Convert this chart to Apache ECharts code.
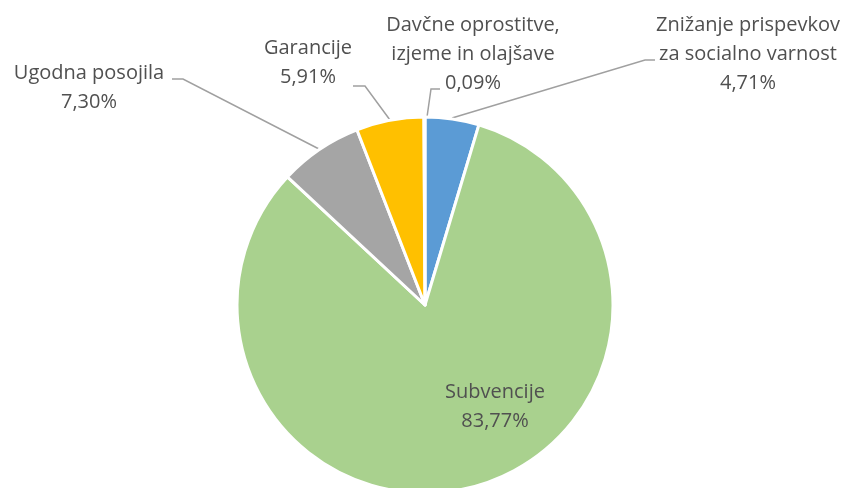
<!DOCTYPE html>
<html>
<head>
<meta charset="utf-8">
<script src="https://cdn.jsdelivr.net/npm/echarts@6/dist/echarts.min.js"></script>
<style>
html, body { margin: 0; padding: 0; background: #fff; }
#chart { width: 848px; height: 488px; }
</style>
</head>
<body>
<div id="chart"></div>
<script>
var names = [
    'Znižanje prispevkov\nza socialno varnost',
    'Subvencije',
    'Ugodna posojila',
    'Garancije',
    'Davčne oprostitve,\nizjeme in olajšave'
];
var values = [4.71, 83.77, 7.30, 5.91, 0.09];
var colors = ['#5B9BD5', '#A9D18E', '#A5A5A5', '#FFC000', '#ED7D31'];

// label placement (centre of text block) and leader lines, as in the original
var labelPos = [
    { x: 748, y: 54, line: [[452, 118], [645, 60], [655, 60]] },
    { x: 495, y: 407 },
    { x: 89, y: 88, line: [[319, 149], [183, 79], [172, 79]] },
    { x: 308, y: 63, line: [[390, 120], [365, 86], [353, 86]] },
    { x: 473, y: 54, line: [[427, 117], [431, 89], [440, 89]] }
];

var chart = echarts.init(document.getElementById('chart'));

var data = names.map(function(n, i) {
    return { name: n, value: values[i], itemStyle: { color: colors[i] } };
});

chart.setOption({
    animation: false,
    backgroundColor: '#fff',
    series: [{
        type: 'pie',
        center: [425, 305],
        radius: 188,
        startAngle: 90,
        clockwise: true,
        avoidLabelOverlap: false,
        data: data,
        itemStyle: {
            borderColor: '#fff',
            borderWidth: 3
        },
        label: {
            show: true,
            position: 'outside',
            color: '#505050',
            fontFamily: 'Open Sans',
            fontSize: 20,
            lineHeight: 29,
            align: 'center',
            formatter: function(p) {
                return p.name + '\n' + p.value.toFixed(2).replace('.', ',') + '%';
            }
        },
        labelLine: {
            show: true,
            lineStyle: { color: '#A0A0A0', width: 1.5 }
        },
        labelLayout: function(params) {
            var pos = labelPos[params.dataIndex];
            var res = {
                x: pos.x,
                y: pos.y,
                align: 'center',
                verticalAlign: 'middle'
            };
            if (pos.line) {
                res.labelLinePoints = pos.line;
            }
            return res;
        }
    }]
});
</script>
</body>
</html>
